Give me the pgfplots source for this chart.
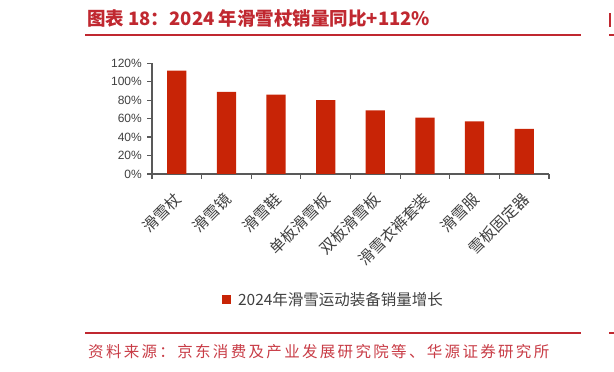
\documentclass[border=0pt]{standalone}
\usepackage{fontspec}
\usepackage{pgfplots}
\pgfplotsset{compat=1.18}
\setmainfont{Liberation Sans}
\newfontfamily\cjk{Noto Sans CJK SC}
\newfontfamily\cjksp{Noto Sans CJK SC}[LetterSpace=15]
\definecolor{barred}{RGB}{200,36,6}
\definecolor{titlered}{RGB}{192,40,48}
\definecolor{srcred}{RGB}{200,60,70}
\definecolor{axiscol}{RGB}{89,89,89}
\definecolor{labcol}{RGB}{64,64,64}
\begin{document}
\begin{tikzpicture}[x=1pt,y=1pt]
\path[use as bounding box] (0,0) rectangle (614,372);
% title
\node[anchor=base west, inner sep=0pt, text=titlered] at (87,346)
  {\cjk\bfseries\fontsize{18.5}{18.5}\selectfont 图表 18：2024 年滑雪杖销量同比+112\%};
\draw[titlered, line width=2pt] (85,337) -- (581,337);
\draw[titlered, line width=2pt] (609,337) -- (614,337);
\fill[titlered] (609,345) rectangle (611,359);
% bottom
\draw[titlered, line width=1.8pt] (85,39) -- (581,39);
\draw[titlered, line width=1.8pt] (609,39) -- (614,39);
\node[anchor=base west, inner sep=0pt, text=srcred] at (88,14)
  {\cjksp\fontsize{15.5}{15.5}\selectfont 资料来源：京东消费及产业发展研究院等、华源证券研究所};
\begin{axis}[
  at={(152pt,198pt)}, anchor=south west,
  scale only axis, width=397pt, height=110.7pt,
  xmin=0, xmax=8, ymin=0, ymax=120,
  axis x line=bottom, axis y line=left,
  axis line style={-, draw=axiscol, line width=1.2pt},
  tick align=outside,
  major tick length=5pt,
  tick style={draw=axiscol, line width=1.2pt},
  xtick={0,1,...,8},
  x tick label as interval=true,
  xticklabels={滑雪杖,滑雪镜,滑雪鞋,单板滑雪板,双板滑雪板,滑雪衣裤套装,滑雪服,雪板固定器},
  xticklabel style={font=\cjk\fontsize{15.5}{15.5}\selectfont, text=labcol, inner sep=0pt, yshift=-17pt, xshift=2pt, rotate=45, anchor=east},
  ytick={0,20,...,120},
  yticklabel={\pgfmathprintnumber{\tick}\%},
  /pgf/number format/assume math mode=true,
  yticklabel style={font=\fontsize{12}{12}\selectfont, text=labcol, inner sep=0pt, anchor=east, xshift=-5pt},
  legend style={draw=none, fill=none, at={(0.176,-1.138)}, anchor=west, inner sep=0pt,
    font=\cjk\fontsize{15.5}{15.5}\selectfont, text=labcol},
  legend image code/.code={\fill[barred] (0pt,-4.5pt) rectangle (9pt,4.5pt); \path (14pt,0pt);},
]
\addplot[ybar, bar width=0.39, fill=barred, draw=none] coordinates {
  (0.5,112) (1.5,89) (2.5,86) (3.5,80) (4.5,69) (5.5,61) (6.5,57) (7.5,49)
};
\addlegendentry{2024年滑雪运动装备销量增长}
\end{axis}
\end{tikzpicture}
\end{document}
